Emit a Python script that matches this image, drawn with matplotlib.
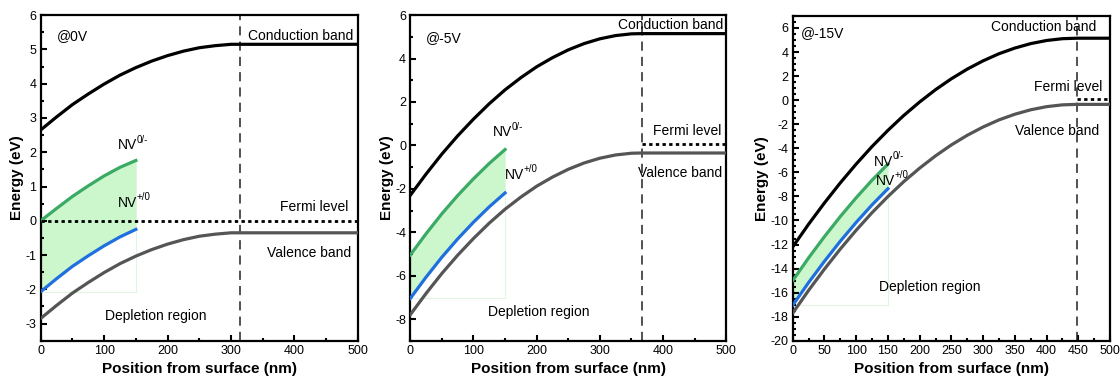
import matplotlib
matplotlib.use("Agg")
import matplotlib.pyplot as plt
from matplotlib.ticker import MultipleLocator

plt.rcParams['font.family'] = ['Liberation Sans', 'DejaVu Sans']
plt.rcParams['axes.unicode_minus'] = False

# ---- data ----
# @0V
x_0v = [0, 25, 50, 75, 100, 125, 150, 175, 200, 225, 250, 275, 300, 313, 500]
cb_0v = [2.65, 3.03, 3.39, 3.70, 3.99, 4.25, 4.47, 4.66, 4.82, 4.95, 5.05, 5.11, 5.15, 5.15, 5.15]
vb_0v = [-2.85, -2.47, -2.11, -1.80, -1.51, -1.25, -1.03, -0.84, -0.68, -0.55, -0.45, -0.39, -0.35, -0.35, -0.35]
nv_x = [0, 25, 50, 75, 100, 125, 150]
nv0_0v = [0.0, 0.36, 0.71, 1.02, 1.31, 1.56, 1.76]
nvp_0v = [-2.07, -1.69, -1.33, -1.02, -0.73, -0.47, -0.25]
fermi_x_0v = [0, 500]
fermi_0v = [0.0, 0.0]
w_0v = 314

# @-5V
x_5v = [0, 25, 50, 75, 100, 125, 150, 175, 200, 225, 250, 275, 300, 325, 350, 366, 500]
cb_5v = [-2.30, -1.32, -0.40, 0.44, 1.21, 1.92, 2.56, 3.12, 3.62, 4.04, 4.40, 4.69, 4.91, 5.06, 5.14, 5.15, 5.15]
vb_5v = [-7.80, -6.82, -5.90, -5.06, -4.29, -3.58, -2.94, -2.38, -1.88, -1.46, -1.10, -0.81, -0.59, -0.44, -0.36, -0.35, -0.35]
nv0_5v = [-5.05, -4.07, -3.15, -2.31, -1.54, -0.83, -0.19]
nvp_5v = [-7.05, -6.07, -5.15, -4.31, -3.54, -2.83, -2.19]
fermi_x_5v = [366, 500]
fermi_5v = [0.05, 0.05]
w_5v = 366

# @-15V
x_15v = [0, 25, 50, 75, 100, 125, 150, 175, 200, 225, 250, 275, 300, 325, 350, 375, 400, 425, 448, 500]
cb_15v = [-12.20, -10.31, -8.54, -6.87, -5.31, -3.85, -2.51, -1.27, -0.15, 0.87, 1.78, 2.58, 3.27, 3.86,
          4.33, 4.70, 4.96, 5.11, 5.15, 5.15]
vb_15v = [-17.70, -15.81, -14.04, -12.37, -10.81, -9.35, -8.01, -6.77, -5.65, -4.63, -3.72, -2.92, -2.23,
          -1.64, -1.17, -0.80, -0.54, -0.39, -0.35, -0.35]
nv0_15v = [-15.0, -13.11, -11.34, -9.67, -8.11, -6.65, -5.31]
nvp_15v = [-17.05, -15.16, -13.39, -11.72, -10.16, -8.70, -7.36]
fermi_x_15v = [448, 500]
fermi_15v = [0.1, 0.1]
w_15v = 448

panels = [
    dict(title='@0V', x=x_0v, cb=cb_0v, vb=vb_0v, nv0=nv0_0v, nvp=nvp_0v, fx=fermi_x_0v, fy=fermi_0v, w=w_0v,
         ylim=(-3.5, 6), ymaj=1, ymin=0.5, xmaj=100, xmin=50,
         pos=[0.0363, 0.124, 0.2833, 0.837],
         txt=dict(title=(26, 5.4), cb=(493, 5.4), fermi=(485, 0.4), vb=(489, -0.95), dep=(182, -2.78),
                  nv0=(122, 2.2), nvp=(122, 0.53))),
    dict(title='@-5V', x=x_5v, cb=cb_5v, vb=vb_5v, nv0=nv0_5v, nvp=nvp_5v, fx=fermi_x_5v, fy=fermi_5v, w=w_5v,
         ylim=(-9, 6), ymaj=2, ymin=1, xmaj=100, xmin=50,
         pos=[0.3663, 0.124, 0.2821, 0.837],
         txt=dict(title=(25, 4.95), cb=(496, 5.57), fermi=(492, 0.68), vb=(494, -1.25), dep=(203, -7.69),
                  nv0=(131, 0.6), nvp=(150, -1.36))),
    dict(title='@-15V', x=x_15v, cb=cb_15v, vb=vb_15v, nv0=nv0_15v, nvp=nvp_15v, fx=fermi_x_15v, fy=fermi_15v,
         w=w_15v, ylim=(-20, 7), ymaj=2, ymin=0.5, xmaj=50, xmin=25,
         pos=[0.7078, 0.124, 0.2833, 0.835],
         txt=dict(title=(13, 5.56), cb=(479, 6.06), fermi=(488, 1.1), vb=(483, -2.56), dep=(216, -15.5),
                  nv0=(128, -5.1), nvp=(131, -6.7))),
]

fig = plt.figure(figsize=(11.2, 3.89), dpi=100)


def nv_label(ax, xy, sup, fs):
    base = ax.text(*xy, 'NV', fontsize=fs, ha='left', va='center')
    ax.annotate(sup, xy=(1.0, 0.55), xycoords=base, xytext=(-0.6, 0), textcoords='offset points',
                fontsize=fs * 0.7, ha='left', va='bottom')


for p in panels:
    ax = fig.add_axes(p['pos'])
    t = p['txt']
    # NV shaded band
    ax.fill_between(nv_x, p['nv0'], p['nvp'], color='#ccf7cc', lw=0, zorder=1)
    ax.plot([nv_x[0], nv_x[-1], nv_x[-1]], [p['nvp'][0], p['nvp'][0], p['nv0'][-1]],
            color='#e0f6e0', lw=0.8, zorder=1)
    ax.plot(p['x'], p['cb'], color='black', lw=2.3, zorder=3)
    ax.plot(p['x'], p['vb'], color='#555555', lw=2.3, zorder=3)
    ax.plot(nv_x, p['nv0'], color='#3aaa64', lw=2.3, zorder=3)
    ax.plot(nv_x, p['nvp'], color='#1f6fdf', lw=2.3, zorder=3)
    ax.plot(p['fx'], p['fy'], color='black', lw=2.0, ls=(0, (1.2, 1.2)), zorder=4)
    ax.axvline(p['w'], color='#222222', lw=1.1, ls=(0, (6, 4)), zorder=2)

    fs = 10
    ax.text(*t['title'], p['title'], fontsize=fs, ha='left', va='center')
    ax.text(*t['cb'], 'Conduction band', fontsize=fs, ha='right', va='center')
    ax.text(*t['fermi'], 'Fermi level', fontsize=fs, ha='right', va='center')
    ax.text(*t['vb'], 'Valence band', fontsize=fs, ha='right', va='center')
    ax.text(*t['dep'], 'Depletion region', fontsize=fs, ha='center', va='center')
    nv_label(ax, t['nv0'], '0/-', fs)
    nv_label(ax, t['nvp'], '+/0', fs)

    ax.set_xlim(0, 500)
    ax.set_ylim(*p['ylim'])
    ax.xaxis.set_major_locator(MultipleLocator(p['xmaj']))
    ax.xaxis.set_minor_locator(MultipleLocator(p['xmin']))
    ax.yaxis.set_major_locator(MultipleLocator(p['ymaj']))
    ax.yaxis.set_minor_locator(MultipleLocator(p['ymin']))
    ax.tick_params(which='both', direction='in', top=False, right=False, width=1.5, labelsize=9, pad=3)
    ax.tick_params(which='major', length=4)
    ax.tick_params(which='minor', length=2)
    for s in ax.spines.values():
        s.set_linewidth(1.6)
    ax.set_xlabel('Position from surface (nm)', fontsize=11, fontweight='bold', labelpad=4)
    ax.set_ylabel('Energy (eV)', fontsize=11, fontweight='bold', labelpad=1)

fig.savefig('out.png', dpi=100)
